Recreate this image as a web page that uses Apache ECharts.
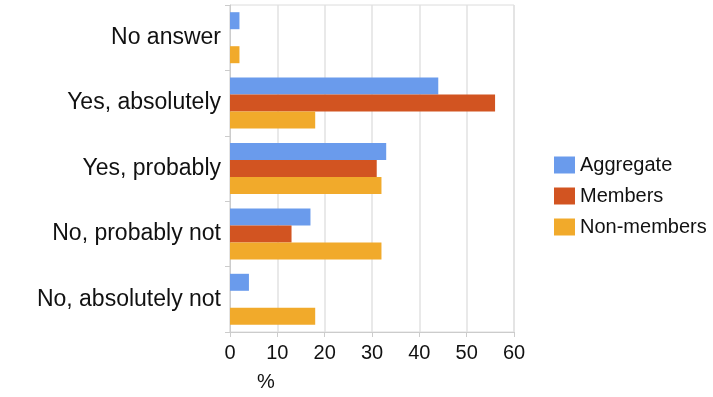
<!DOCTYPE html>
<html>
<head>
<meta charset="utf-8">
<script src="https://cdn.jsdelivr.net/npm/echarts@6/dist/echarts.min.js"></script>
<style>
  html, body { margin: 0; padding: 0; background: #fff; }
  #chart { width: 713px; height: 397px; }
</style>
</head>
<body>
<div id="chart"></div>
<script>
const categories = ['No answer', 'Yes, absolutely', 'Yes, probably', 'No, probably not', 'No, absolutely not']
const aggregate = [2, 44, 33, 17, 4]
const members = [0, 56, 31, 13, 0]
const nonMembers = [2, 18, 32, 32, 18]
const xTicks = [0, 60, 10]  // min, max, interval

const font = '"Liberation Sans", Arial, sans-serif'

const chart = echarts.init(document.getElementById('chart'))

const bar = (name, data, color) => ({
  name: name,
  type: 'bar',
  data: data,
  barWidth: 17,
  barGap: '0%',
  itemStyle: { color: color }
})

chart.setOption({
  animation: false,
  textStyle: { fontFamily: font },
  title: {
    text: '%',
    left: 257,
    top: 372,
    padding: 0,
    textStyle: { fontFamily: font, fontSize: 20, fontWeight: 'normal', color: '#111' }
  },
  legend: {
    orient: 'vertical',
    left: 554,
    top: 155,
    padding: 0,
    itemWidth: 21,
    itemHeight: 17,
    itemGap: 11,
    icon: 'rect',
    textStyle: { fontFamily: font, fontSize: 20, color: '#111' },
    data: ['Aggregate', 'Members', 'Non-members']
  },
  grid: {
    left: 230,
    right: 199,
    top: 5,
    bottom: 65,
    show: true,
    borderColor: '#dcdcdc',
    borderWidth: 1
  },
  xAxis: {
    type: 'value',
    min: xTicks[0],
    max: xTicks[1],
    interval: xTicks[2],
    axisLine: { show: true, lineStyle: { color: '#cccccc' } },
    axisTick: { show: true, length: 5, lineStyle: { color: '#cccccc' } },
    splitLine: { lineStyle: { color: '#e2e2e2', width: 1.5 } },
    axisLabel: { fontFamily: font, fontSize: 20, color: '#111', margin: 11 }
  },
  yAxis: {
    type: 'category',
    inverse: true,
    data: categories,
    axisLine: { show: true, lineStyle: { color: '#cccccc' } },
    axisTick: { show: true, length: 5, lineStyle: { color: '#cccccc' } },
    splitLine: { show: false },
    axisLabel: { fontFamily: font, fontSize: 23, color: '#111', margin: 9 }
  },
  series: [
    bar('Aggregate', aggregate, '#6a9bec'),
    bar('Members', members, '#d25421'),
    bar('Non-members', nonMembers, '#f1aa2b')
  ]
})
</script>
</body>
</html>
